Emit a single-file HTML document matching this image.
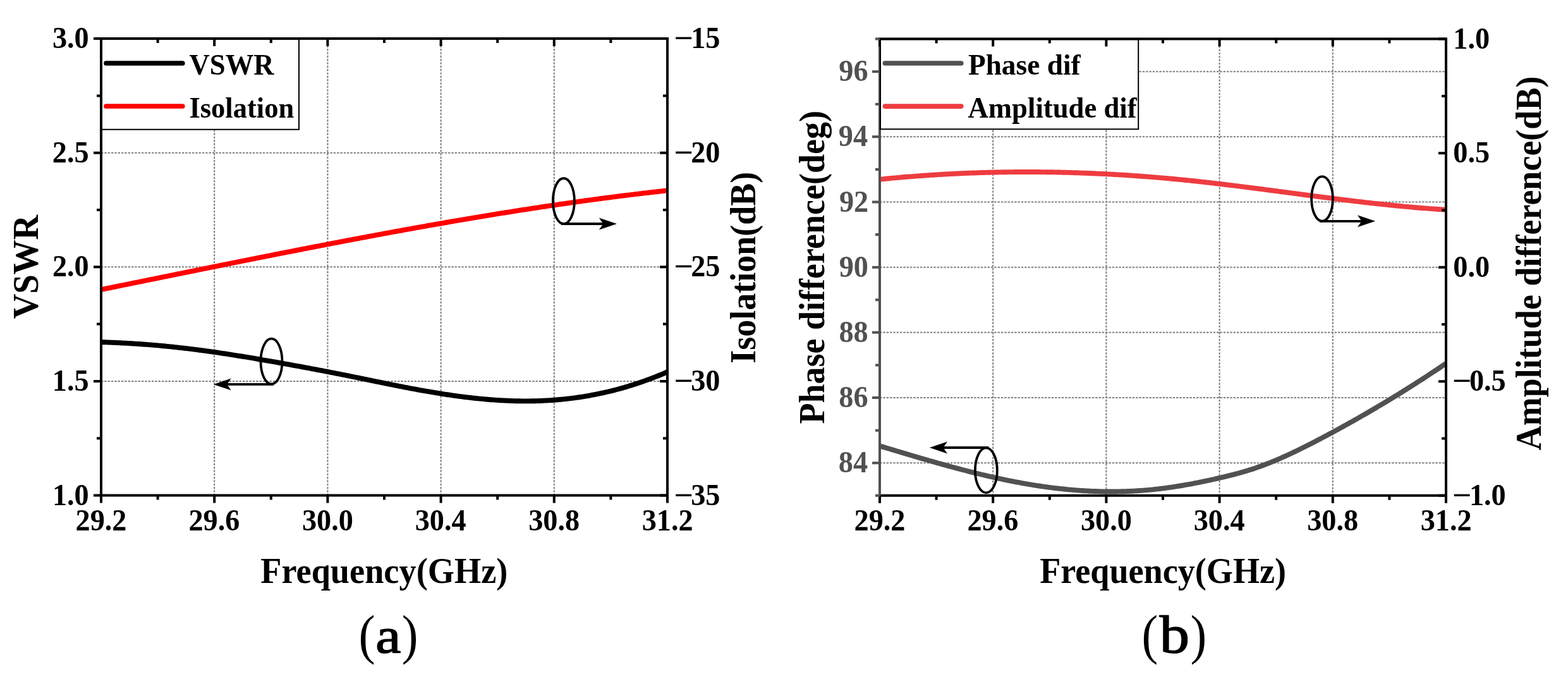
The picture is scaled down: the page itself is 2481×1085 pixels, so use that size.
<!DOCTYPE html>
<html><head><meta charset="utf-8"><title>Figure</title>
<style>
html,body{margin:0;padding:0;background:#fff;overflow:hidden;}
svg{display:block;}
text{font-family:"Liberation Serif", "Times New Roman", serif;}
</style></head>
<body>
<svg width="2481" height="1085" viewBox="0 0 2481 1085">
<rect x="0" y="0" width="2481" height="1085" fill="#fff"/>
<path d="M339.2 61.1 V783.5 M518.4 61.1 V783.5 M697.6 61.1 V783.5 M876.8 61.1 V783.5 M160 602.9 H1056 M160 422.3 H1056 M160 241.7 H1056" stroke="#7f7f7f" stroke-width="2" stroke-dasharray="3.4 1.93" fill="none"/>
<path d="M160 458.04 L163 457.43 L165.99 456.83 L168.99 456.22 L171.99 455.61 L174.98 455.01 L177.98 454.4 L180.98 453.79 L183.97 453.18 L186.97 452.58 L189.97 451.97 L192.96 451.36 L195.96 450.75 L198.96 450.14 L201.95 449.54 L204.95 448.93 L207.95 448.32 L210.94 447.71 L213.94 447.1 L216.94 446.5 L219.93 445.89 L222.93 445.28 L225.93 444.67 L228.92 444.06 L231.92 443.46 L234.92 442.85 L237.91 442.24 L240.91 441.63 L243.91 441.02 L246.9 440.41 L249.9 439.81 L252.9 439.2 L255.89 438.59 L258.89 437.98 L261.89 437.38 L264.88 436.77 L267.88 436.16 L270.88 435.55 L273.87 434.94 L276.87 434.34 L279.87 433.73 L282.86 433.12 L285.86 432.52 L288.86 431.91 L291.85 431.3 L294.85 430.7 L297.85 430.09 L300.84 429.48 L303.84 428.88 L306.84 428.27 L309.83 427.67 L312.83 427.06 L315.83 426.46 L318.82 425.85 L321.82 425.25 L324.82 424.64 L327.81 424.04 L330.81 423.43 L333.81 422.83 L336.8 422.22 L339.8 421.62 L342.8 421.02 L345.79 420.41 L348.79 419.81 L351.79 419.21 L354.78 418.61 L357.78 418 L360.78 417.4 L363.77 416.8 L366.77 416.2 L369.77 415.6 L372.76 415 L375.76 414.4 L378.76 413.8 L381.75 413.2 L384.75 412.6 L387.75 412 L390.74 411.41 L393.74 410.81 L396.74 410.21 L399.73 409.61 L402.73 409.02 L405.73 408.42 L408.72 407.82 L411.72 407.23 L414.72 406.63 L417.71 406.04 L420.71 405.45 L423.71 404.85 L426.7 404.26 L429.7 403.67 L432.7 403.07 L435.69 402.48 L438.69 401.89 L441.69 401.3 L444.68 400.71 L447.68 400.12 L450.68 399.53 L453.67 398.94 L456.67 398.35 L459.67 397.76 L462.66 397.18 L465.66 396.59 L468.66 396 L471.65 395.42 L474.65 394.83 L477.65 394.25 L480.64 393.66 L483.64 393.08 L486.64 392.5 L489.63 391.91 L492.63 391.33 L495.63 390.75 L498.62 390.17 L501.62 389.59 L504.62 389.01 L507.61 388.43 L510.61 387.86 L513.61 387.28 L516.6 386.7 L519.6 386.13 L522.6 385.55 L525.59 384.98 L528.59 384.4 L531.59 383.83 L534.58 383.26 L537.58 382.68 L540.58 382.11 L543.57 381.54 L546.57 380.97 L549.57 380.4 L552.56 379.84 L555.56 379.27 L558.56 378.7 L561.55 378.14 L564.55 377.57 L567.55 377.01 L570.54 376.44 L573.54 375.88 L576.54 375.32 L579.53 374.76 L582.53 374.2 L585.53 373.64 L588.52 373.08 L591.52 372.52 L594.52 371.96 L597.51 371.41 L600.51 370.85 L603.51 370.3 L606.5 369.74 L609.5 369.19 L612.49 368.64 L615.49 368.09 L618.49 367.54 L621.48 366.99 L624.48 366.44 L627.48 365.89 L630.47 365.34 L633.47 364.8 L636.47 364.25 L639.46 363.71 L642.46 363.17 L645.46 362.63 L648.45 362.08 L651.45 361.54 L654.45 361.01 L657.44 360.47 L660.44 359.93 L663.44 359.4 L666.43 358.86 L669.43 358.33 L672.43 357.79 L675.42 357.26 L678.42 356.73 L681.42 356.2 L684.41 355.67 L687.41 355.15 L690.41 354.62 L693.4 354.1 L696.4 353.57 L699.4 353.05 L702.39 352.53 L705.39 352.01 L708.39 351.49 L711.38 350.97 L714.38 350.45 L717.38 349.94 L720.37 349.42 L723.37 348.91 L726.37 348.4 L729.36 347.89 L732.36 347.38 L735.36 346.87 L738.35 346.36 L741.35 345.85 L744.35 345.35 L747.34 344.84 L750.34 344.34 L753.34 343.84 L756.33 343.34 L759.33 342.84 L762.33 342.35 L765.32 341.85 L768.32 341.36 L771.32 340.86 L774.31 340.37 L777.31 339.88 L780.31 339.39 L783.3 338.9 L786.3 338.42 L789.3 337.93 L792.29 337.45 L795.29 336.97 L798.29 336.49 L801.28 336.01 L804.28 335.53 L807.28 335.05 L810.27 334.58 L813.27 334.1 L816.27 333.63 L819.26 333.16 L822.26 332.69 L825.26 332.22 L828.25 331.76 L831.25 331.29 L834.25 330.83 L837.24 330.37 L840.24 329.91 L843.24 329.45 L846.23 328.99 L849.23 328.54 L852.23 328.08 L855.22 327.63 L858.22 327.18 L861.22 326.73 L864.21 326.28 L867.21 325.84 L870.21 325.39 L873.2 324.95 L876.2 324.51 L879.2 324.07 L882.19 323.63 L885.19 323.19 L888.19 322.76 L891.18 322.33 L894.18 321.89 L897.18 321.47 L900.17 321.04 L903.17 320.61 L906.17 320.19 L909.16 319.76 L912.16 319.34 L915.16 318.92 L918.15 318.51 L921.15 318.09 L924.15 317.68 L927.14 317.27 L930.14 316.86 L933.14 316.45 L936.13 316.04 L939.13 315.63 L942.13 315.23 L945.12 314.83 L948.12 314.43 L951.12 314.03 L954.11 313.64 L957.11 313.24 L960.11 312.85 L963.1 312.46 L966.1 312.07 L969.1 311.69 L972.09 311.3 L975.09 310.92 L978.09 310.54 L981.08 310.16 L984.08 309.78 L987.08 309.41 L990.07 309.04 L993.07 308.67 L996.07 308.3 L999.06 307.93 L1002.06 307.57 L1005.06 307.2 L1008.05 306.84 L1011.05 306.48 L1014.05 306.13 L1017.04 305.77 L1020.04 305.42 L1023.04 305.07 L1026.03 304.72 L1029.03 304.37 L1032.03 304.03 L1035.02 303.69 L1038.02 303.34 L1041.02 303.01 L1044.01 302.67 L1047.01 302.34 L1050.01 302 L1053 301.67 L1056 301.35" stroke="#ff0000" stroke-width="7.9" fill="none" stroke-linejoin="round"/>
<path d="M160 541.14 L163 541.23 L165.99 541.32 L168.99 541.42 L171.99 541.53 L174.98 541.64 L177.98 541.76 L180.98 541.89 L183.97 542.02 L186.97 542.15 L189.97 542.3 L192.96 542.45 L195.96 542.6 L198.96 542.76 L201.95 542.93 L204.95 543.1 L207.95 543.28 L210.94 543.47 L213.94 543.66 L216.94 543.86 L219.93 544.06 L222.93 544.27 L225.93 544.48 L228.92 544.71 L231.92 544.93 L234.92 545.17 L237.91 545.4 L240.91 545.65 L243.91 545.9 L246.9 546.16 L249.9 546.42 L252.9 546.69 L255.89 546.97 L258.89 547.25 L261.89 547.53 L264.88 547.83 L267.88 548.13 L270.88 548.43 L273.87 548.74 L276.87 549.06 L279.87 549.38 L282.86 549.71 L285.86 550.05 L288.86 550.39 L291.85 550.73 L294.85 551.09 L297.85 551.44 L300.84 551.81 L303.84 552.18 L306.84 552.55 L309.83 552.93 L312.83 553.32 L315.83 553.71 L318.82 554.11 L321.82 554.51 L324.82 554.92 L327.81 555.33 L330.81 555.75 L333.81 556.17 L336.8 556.6 L339.8 557.03 L342.8 557.46 L345.79 557.9 L348.79 558.35 L351.79 558.8 L354.78 559.25 L357.78 559.71 L360.78 560.17 L363.77 560.63 L366.77 561.1 L369.77 561.57 L372.76 562.05 L375.76 562.53 L378.76 563.01 L381.75 563.49 L384.75 563.98 L387.75 564.47 L390.74 564.97 L393.74 565.47 L396.74 565.97 L399.73 566.47 L402.73 566.98 L405.73 567.49 L408.72 568 L411.72 568.51 L414.72 569.02 L417.71 569.54 L420.71 570.06 L423.71 570.58 L426.7 571.11 L429.7 571.63 L432.7 572.16 L435.69 572.69 L438.69 573.22 L441.69 573.75 L444.68 574.28 L447.68 574.82 L450.68 575.35 L453.67 575.89 L456.67 576.43 L459.67 576.98 L462.66 577.52 L465.66 578.06 L468.66 578.61 L471.65 579.16 L474.65 579.71 L477.65 580.26 L480.64 580.82 L483.64 581.37 L486.64 581.93 L489.63 582.49 L492.63 583.05 L495.63 583.61 L498.62 584.18 L501.62 584.75 L504.62 585.31 L507.61 585.88 L510.61 586.46 L513.61 587.03 L516.6 587.61 L519.6 588.19 L522.6 588.77 L525.59 589.35 L528.59 589.93 L531.59 590.52 L534.58 591.11 L537.58 591.7 L540.58 592.29 L543.57 592.89 L546.57 593.49 L549.57 594.08 L552.56 594.69 L555.56 595.29 L558.56 595.9 L561.55 596.5 L564.55 597.11 L567.55 597.72 L570.54 598.34 L573.54 598.95 L576.54 599.56 L579.53 600.18 L582.53 600.8 L585.53 601.41 L588.52 602.03 L591.52 602.65 L594.52 603.26 L597.51 603.88 L600.51 604.49 L603.51 605.1 L606.5 605.72 L609.5 606.33 L612.49 606.93 L615.49 607.54 L618.49 608.15 L621.48 608.75 L624.48 609.35 L627.48 609.94 L630.47 610.54 L633.47 611.13 L636.47 611.72 L639.46 612.3 L642.46 612.88 L645.46 613.45 L648.45 614.02 L651.45 614.59 L654.45 615.15 L657.44 615.71 L660.44 616.26 L663.44 616.8 L666.43 617.35 L669.43 617.88 L672.43 618.41 L675.42 618.93 L678.42 619.45 L681.42 619.96 L684.41 620.47 L687.41 620.97 L690.41 621.46 L693.4 621.95 L696.4 622.43 L699.4 622.9 L702.39 623.36 L705.39 623.82 L708.39 624.27 L711.38 624.71 L714.38 625.15 L717.38 625.57 L720.37 625.99 L723.37 626.4 L726.37 626.81 L729.36 627.2 L732.36 627.58 L735.36 627.96 L738.35 628.33 L741.35 628.68 L744.35 629.03 L747.34 629.37 L750.34 629.7 L753.34 630.02 L756.33 630.33 L759.33 630.63 L762.33 630.91 L765.32 631.19 L768.32 631.46 L771.32 631.72 L774.31 631.96 L777.31 632.2 L780.31 632.42 L783.3 632.63 L786.3 632.84 L789.3 633.03 L792.29 633.2 L795.29 633.37 L798.29 633.52 L801.28 633.66 L804.28 633.79 L807.28 633.91 L810.27 634.01 L813.27 634.1 L816.27 634.18 L819.26 634.24 L822.26 634.29 L825.26 634.33 L828.25 634.36 L831.25 634.37 L834.25 634.36 L837.24 634.34 L840.24 634.31 L843.24 634.26 L846.23 634.2 L849.23 634.13 L852.23 634.03 L855.22 633.93 L858.22 633.81 L861.22 633.67 L864.21 633.52 L867.21 633.35 L870.21 633.16 L873.2 632.97 L876.2 632.75 L879.2 632.52 L882.19 632.27 L885.19 632.01 L888.19 631.73 L891.18 631.43 L894.18 631.12 L897.18 630.79 L900.17 630.44 L903.17 630.08 L906.17 629.7 L909.16 629.31 L912.16 628.89 L915.16 628.47 L918.15 628.02 L921.15 627.56 L924.15 627.08 L927.14 626.58 L930.14 626.07 L933.14 625.54 L936.13 624.99 L939.13 624.42 L942.13 623.84 L945.12 623.24 L948.12 622.62 L951.12 621.99 L954.11 621.34 L957.11 620.67 L960.11 619.98 L963.1 619.27 L966.1 618.55 L969.1 617.81 L972.09 617.05 L975.09 616.27 L978.09 615.48 L981.08 614.66 L984.08 613.83 L987.08 612.98 L990.07 612.11 L993.07 611.22 L996.07 610.32 L999.06 609.39 L1002.06 608.45 L1005.06 607.49 L1008.05 606.51 L1011.05 605.51 L1014.05 604.49 L1017.04 603.46 L1020.04 602.4 L1023.04 601.33 L1026.03 600.23 L1029.03 599.12 L1032.03 597.99 L1035.02 596.83 L1038.02 595.66 L1041.02 594.47 L1044.01 593.26 L1047.01 592.03 L1050.01 590.78 L1053 589.51 L1056 588.22" stroke="#000" stroke-width="7.9" fill="none" stroke-linejoin="round"/>
<path d="M160 61.1 H1056 M160 783.5 H1056 M1056 61.1 V783.5" stroke="#000" stroke-width="4" fill="none" stroke-linecap="square"/>
<path d="M160 63.1 V785.5" stroke="#000" stroke-width="4" fill="none"/>
<rect x="161" y="62.1" width="312" height="142.7" fill="#fff" stroke="#000" stroke-width="2"/>
<path d="M167.9 100 H288.8" stroke="#000" stroke-width="7.7" stroke-linecap="round"/>
<text transform="translate(299.6 118.4) scale(0.9598 1.0000)" font-size="46.5" font-weight="bold" fill="#000">VSWR</text>
<path d="M167.9 168 H288.8" stroke="#ff0000" stroke-width="7.7" stroke-linecap="round"/>
<text transform="translate(299.4 186) scale(0.9587 1.0000)" font-size="46.5" font-weight="bold" fill="#000">Isolation</text>
<path d="M160 783.5 V795.5 M160 61.1 V73.1 M339.2 783.5 V795.5 M339.2 61.1 V73.1 M518.4 783.5 V795.5 M518.4 61.1 V73.1 M697.6 783.5 V795.5 M697.6 61.1 V73.1 M876.8 783.5 V795.5 M876.8 61.1 V73.1 M1056 783.5 V795.5 M1056 61.1 V73.1 M249.6 783.5 V790.5 M249.6 61.1 V68.1 M428.8 783.5 V790.5 M428.8 61.1 V68.1 M608 783.5 V790.5 M608 61.1 V68.1 M787.2 783.5 V790.5 M787.2 61.1 V68.1 M966.4 783.5 V790.5 M966.4 61.1 V68.1 M1056 783.5 H1044 M1056 602.9 H1044 M1056 422.3 H1044 M1056 241.7 H1044 M1056 61.1 H1044 M1056 693.2 H1049 M1056 512.6 H1049 M1056 332 H1049 M1056 151.4 H1049" stroke="#000" stroke-width="4" fill="none"/>
<path d="M160 783.5 H148 M160 602.9 H148 M160 422.3 H148 M160 241.7 H148 M160 61.1 H148 M160 693.2 H153 M160 512.6 H153 M160 332 H153 M160 151.4 H153" stroke="#000" stroke-width="4" fill="none"/>
<ellipse cx="891.9" cy="318" rx="17" ry="36" fill="none" stroke="#000" stroke-width="3.8"/>
<path d="M888 354 H969.4" stroke="#000" stroke-width="3.8" fill="none"/>
<path d="M976 354 L947.8 344.55 L954.4 354 L947.8 363.45 Z" fill="#000"/>
<ellipse cx="429.5" cy="571.6" rx="17" ry="35.9" fill="none" stroke="#000" stroke-width="3.8"/>
<path d="M432.8 607.9 H344.1" stroke="#000" stroke-width="3.8" fill="none"/>
<path d="M337.5 607.9 L365.7 598.45 L359.1 607.9 L365.7 617.35 Z" fill="#000"/>
<text transform="translate(119.53 839.3) scale(0.9640 1.0000)" font-size="48" font-weight="bold" fill="#000">29.2</text>
<text transform="translate(298.42 839.3) scale(0.9640 1.0000)" font-size="48" font-weight="bold" fill="#000">29.6</text>
<text transform="translate(477.92 839.3) scale(0.9640 1.0000)" font-size="48" font-weight="bold" fill="#000">30.0</text>
<text transform="translate(656.67 839.3) scale(0.9640 1.0000)" font-size="48" font-weight="bold" fill="#000">30.4</text>
<text transform="translate(836.21 839.3) scale(0.9640 1.0000)" font-size="48" font-weight="bold" fill="#000">30.8</text>
<text transform="translate(1015.64 839.3) scale(0.9640 1.0000)" font-size="48" font-weight="bold" fill="#000">31.2</text>
<text transform="translate(82.92 798.5) scale(0.9640 1.0000)" font-size="48" font-weight="bold" fill="#000">1.0</text>
<text transform="translate(82.85 617.9) scale(0.9640 1.0000)" font-size="48" font-weight="bold" fill="#000">1.5</text>
<text transform="translate(82.92 437.3) scale(0.9640 1.0000)" font-size="48" font-weight="bold" fill="#000">2.0</text>
<text transform="translate(82.85 256.7) scale(0.9640 1.0000)" font-size="48" font-weight="bold" fill="#000">2.5</text>
<text transform="translate(82.92 76.1) scale(0.9640 1.0000)" font-size="48" font-weight="bold" fill="#000">3.0</text>
<text transform="translate(1066.16 76.1) scale(1.1204 1.0000)" font-size="48" font-weight="bold" fill="#000">−</text>
<text transform="translate(1093.2 76.1) scale(0.9640 1.0000)" font-size="48" font-weight="bold" fill="#000">15</text>
<text transform="translate(1066.16 256.7) scale(1.1204 1.0000)" font-size="48" font-weight="bold" fill="#000">−</text>
<text transform="translate(1093.2 256.7) scale(0.9640 1.0000)" font-size="48" font-weight="bold" fill="#000">20</text>
<text transform="translate(1066.16 437.3) scale(1.1204 1.0000)" font-size="48" font-weight="bold" fill="#000">−</text>
<text transform="translate(1093.2 437.3) scale(0.9640 1.0000)" font-size="48" font-weight="bold" fill="#000">25</text>
<text transform="translate(1066.16 617.9) scale(1.1204 1.0000)" font-size="48" font-weight="bold" fill="#000">−</text>
<text transform="translate(1093.2 617.9) scale(0.9640 1.0000)" font-size="48" font-weight="bold" fill="#000">30</text>
<text transform="translate(1066.16 798.5) scale(1.1204 1.0000)" font-size="48" font-weight="bold" fill="#000">−</text>
<text transform="translate(1093.2 798.5) scale(0.9640 1.0000)" font-size="48" font-weight="bold" fill="#000">35</text>
<text transform="translate(412.27 921.8) scale(0.9698 1.0000)" font-size="56" font-weight="bold" fill="#000">Frequency(GHz)</text>
<text transform="translate(60.2 504.22) rotate(-90) scale(0.9780 1)" font-size="56" font-weight="bold" fill="#000">VSWR</text>
<text transform="translate(1195 574.82) rotate(-90) scale(0.9647 1)" font-size="56" font-weight="bold" fill="#000">Isolation(dB)</text>
<text transform="translate(567.46 1032.6) scale(0.9100 1.0000)" font-size="86" font-weight="normal" fill="#000">(</text>
<text transform="translate(594.32 1032.2) scale(1.0509 0.9100)" font-size="86" font-weight="normal" fill="#000" stroke="#000" stroke-width="1.6" stroke-linejoin="round">a</text>
<text transform="translate(635.72 1032.6) scale(0.8964 1.0000)" font-size="86" font-weight="normal" fill="#000">)</text>
<path d="M1571.2 61.6 V783.8 M1750.4 61.6 V783.8 M1929.6 61.6 V783.8 M2108.8 61.6 V783.8 M1392 732.21 H2288 M1392 629.04 H2288 M1392 525.87 H2288 M1392 422.7 H2288 M1392 319.53 H2288 M1392 216.36 H2288 M1392 113.19 H2288" stroke="#7f7f7f" stroke-width="2" stroke-dasharray="3.4 1.93" fill="none"/>
<path d="M1392 283.68 L1395 283.37 L1397.99 283.08 L1400.99 282.78 L1403.99 282.49 L1406.98 282.2 L1409.98 281.92 L1412.98 281.64 L1415.97 281.37 L1418.97 281.1 L1421.97 280.83 L1424.96 280.57 L1427.96 280.31 L1430.96 280.06 L1433.95 279.81 L1436.95 279.56 L1439.95 279.32 L1442.94 279.08 L1445.94 278.85 L1448.94 278.62 L1451.93 278.39 L1454.93 278.17 L1457.93 277.95 L1460.92 277.74 L1463.92 277.53 L1466.92 277.32 L1469.91 277.12 L1472.91 276.92 L1475.91 276.72 L1478.9 276.53 L1481.9 276.35 L1484.9 276.16 L1487.89 275.99 L1490.89 275.81 L1493.89 275.64 L1496.88 275.47 L1499.88 275.31 L1502.88 275.15 L1505.87 275 L1508.87 274.85 L1511.87 274.7 L1514.86 274.56 L1517.86 274.42 L1520.86 274.28 L1523.85 274.15 L1526.85 274.02 L1529.85 273.9 L1532.84 273.78 L1535.84 273.66 L1538.84 273.55 L1541.83 273.44 L1544.83 273.34 L1547.83 273.24 L1550.82 273.14 L1553.82 273.05 L1556.82 272.96 L1559.81 272.88 L1562.81 272.8 L1565.81 272.72 L1568.8 272.65 L1571.8 272.58 L1574.8 272.51 L1577.79 272.45 L1580.79 272.39 L1583.79 272.34 L1586.78 272.29 L1589.78 272.24 L1592.78 272.2 L1595.77 272.16 L1598.77 272.12 L1601.77 272.09 L1604.76 272.07 L1607.76 272.04 L1610.76 272.02 L1613.75 272.01 L1616.75 271.99 L1619.75 271.99 L1622.74 271.98 L1625.74 271.98 L1628.74 271.98 L1631.73 271.99 L1634.73 272 L1637.73 272.02 L1640.72 272.03 L1643.72 272.06 L1646.72 272.08 L1649.71 272.11 L1652.71 272.14 L1655.71 272.18 L1658.7 272.22 L1661.7 272.27 L1664.7 272.31 L1667.69 272.37 L1670.69 272.42 L1673.69 272.48 L1676.68 272.54 L1679.68 272.61 L1682.68 272.68 L1685.67 272.75 L1688.67 272.83 L1691.67 272.91 L1694.66 273 L1697.66 273.09 L1700.66 273.18 L1703.65 273.28 L1706.65 273.38 L1709.65 273.48 L1712.64 273.59 L1715.64 273.7 L1718.64 273.81 L1721.63 273.93 L1724.63 274.05 L1727.63 274.18 L1730.62 274.31 L1733.62 274.44 L1736.62 274.58 L1739.61 274.72 L1742.61 274.86 L1745.61 275.01 L1748.6 275.16 L1751.6 275.32 L1754.6 275.47 L1757.59 275.64 L1760.59 275.8 L1763.59 275.97 L1766.58 276.14 L1769.58 276.32 L1772.58 276.5 L1775.57 276.68 L1778.57 276.87 L1781.57 277.06 L1784.56 277.26 L1787.56 277.45 L1790.56 277.66 L1793.55 277.86 L1796.55 278.07 L1799.55 278.28 L1802.54 278.5 L1805.54 278.72 L1808.54 278.94 L1811.53 279.17 L1814.53 279.4 L1817.53 279.63 L1820.52 279.87 L1823.52 280.11 L1826.52 280.35 L1829.51 280.6 L1832.51 280.85 L1835.51 281.11 L1838.5 281.36 L1841.5 281.63 L1844.49 281.89 L1847.49 282.16 L1850.49 282.43 L1853.48 282.71 L1856.48 282.99 L1859.48 283.27 L1862.47 283.56 L1865.47 283.85 L1868.47 284.14 L1871.46 284.44 L1874.46 284.74 L1877.46 285.04 L1880.45 285.35 L1883.45 285.66 L1886.45 285.97 L1889.44 286.29 L1892.44 286.61 L1895.44 286.93 L1898.43 287.26 L1901.43 287.59 L1904.43 287.92 L1907.42 288.25 L1910.42 288.59 L1913.42 288.93 L1916.41 289.27 L1919.41 289.62 L1922.41 289.97 L1925.4 290.32 L1928.4 290.67 L1931.4 291.02 L1934.39 291.38 L1937.39 291.74 L1940.39 292.1 L1943.38 292.46 L1946.38 292.83 L1949.38 293.2 L1952.37 293.57 L1955.37 293.94 L1958.37 294.31 L1961.36 294.68 L1964.36 295.06 L1967.36 295.44 L1970.35 295.82 L1973.35 296.2 L1976.35 296.58 L1979.34 296.96 L1982.34 297.35 L1985.34 297.73 L1988.33 298.12 L1991.33 298.51 L1994.33 298.89 L1997.32 299.28 L2000.32 299.67 L2003.32 300.07 L2006.31 300.46 L2009.31 300.85 L2012.31 301.24 L2015.3 301.64 L2018.3 302.03 L2021.3 302.43 L2024.29 302.82 L2027.29 303.22 L2030.29 303.61 L2033.28 304.01 L2036.28 304.41 L2039.28 304.8 L2042.27 305.2 L2045.27 305.59 L2048.27 305.99 L2051.26 306.38 L2054.26 306.78 L2057.26 307.18 L2060.25 307.57 L2063.25 307.96 L2066.25 308.36 L2069.24 308.75 L2072.24 309.14 L2075.24 309.54 L2078.23 309.93 L2081.23 310.32 L2084.23 310.71 L2087.22 311.1 L2090.22 311.48 L2093.22 311.87 L2096.21 312.25 L2099.21 312.64 L2102.21 313.02 L2105.2 313.4 L2108.2 313.78 L2111.2 314.16 L2114.19 314.54 L2117.19 314.91 L2120.19 315.29 L2123.18 315.66 L2126.18 316.03 L2129.18 316.4 L2132.17 316.77 L2135.17 317.13 L2138.17 317.5 L2141.16 317.86 L2144.16 318.22 L2147.16 318.57 L2150.15 318.93 L2153.15 319.28 L2156.15 319.63 L2159.14 319.98 L2162.14 320.32 L2165.14 320.66 L2168.13 321 L2171.13 321.34 L2174.13 321.67 L2177.12 322 L2180.12 322.33 L2183.12 322.66 L2186.11 322.98 L2189.11 323.3 L2192.11 323.62 L2195.1 323.93 L2198.1 324.24 L2201.1 324.55 L2204.09 324.85 L2207.09 325.15 L2210.09 325.45 L2213.08 325.74 L2216.08 326.03 L2219.08 326.31 L2222.07 326.59 L2225.07 326.87 L2228.07 327.15 L2231.06 327.42 L2234.06 327.68 L2237.06 327.94 L2240.05 328.2 L2243.05 328.46 L2246.05 328.7 L2249.04 328.95 L2252.04 329.19 L2255.04 329.43 L2258.03 329.66 L2261.03 329.89 L2264.03 330.11 L2267.02 330.33 L2270.02 330.54 L2273.02 330.75 L2276.01 330.95 L2279.01 331.15 L2282.01 331.34 L2285 331.53 L2288 331.72" stroke="#ee3c40" stroke-width="7.9" fill="none" stroke-linejoin="round"/>
<path d="M1392 705.31 L1395 706.22 L1397.99 707.12 L1400.99 708.02 L1403.99 708.93 L1406.98 709.83 L1409.98 710.73 L1412.98 711.63 L1415.97 712.53 L1418.97 713.43 L1421.97 714.33 L1424.96 715.23 L1427.96 716.12 L1430.96 717.02 L1433.95 717.91 L1436.95 718.8 L1439.95 719.69 L1442.94 720.57 L1445.94 721.46 L1448.94 722.34 L1451.93 723.22 L1454.93 724.09 L1457.93 724.97 L1460.92 725.84 L1463.92 726.7 L1466.92 727.57 L1469.91 728.43 L1472.91 729.29 L1475.91 730.14 L1478.9 730.99 L1481.9 731.84 L1484.9 732.68 L1487.89 733.52 L1490.89 734.36 L1493.89 735.19 L1496.88 736.02 L1499.88 736.84 L1502.88 737.66 L1505.87 738.47 L1508.87 739.28 L1511.87 740.08 L1514.86 740.88 L1517.86 741.67 L1520.86 742.46 L1523.85 743.24 L1526.85 744.01 L1529.85 744.78 L1532.84 745.55 L1535.84 746.31 L1538.84 747.06 L1541.83 747.8 L1544.83 748.54 L1547.83 749.28 L1550.82 750 L1553.82 750.72 L1556.82 751.43 L1559.81 752.14 L1562.81 752.84 L1565.81 753.53 L1568.8 754.21 L1571.8 754.89 L1574.8 755.56 L1577.79 756.22 L1580.79 756.87 L1583.79 757.51 L1586.78 758.15 L1589.78 758.78 L1592.78 759.4 L1595.77 760.01 L1598.77 760.61 L1601.77 761.21 L1604.76 761.79 L1607.76 762.37 L1610.76 762.93 L1613.75 763.49 L1616.75 764.04 L1619.75 764.58 L1622.74 765.1 L1625.74 765.62 L1628.74 766.13 L1631.73 766.63 L1634.73 767.12 L1637.73 767.6 L1640.72 768.07 L1643.72 768.52 L1646.72 768.97 L1649.71 769.41 L1652.71 769.83 L1655.71 770.25 L1658.7 770.65 L1661.7 771.05 L1664.7 771.43 L1667.69 771.8 L1670.69 772.16 L1673.69 772.51 L1676.68 772.85 L1679.68 773.18 L1682.68 773.49 L1685.67 773.8 L1688.67 774.09 L1691.67 774.37 L1694.66 774.64 L1697.66 774.9 L1700.66 775.15 L1703.65 775.38 L1706.65 775.6 L1709.65 775.82 L1712.64 776.01 L1715.64 776.2 L1718.64 776.38 L1721.63 776.54 L1724.63 776.69 L1727.63 776.83 L1730.62 776.95 L1733.62 777.07 L1736.62 777.17 L1739.61 777.25 L1742.61 777.33 L1745.61 777.39 L1748.6 777.44 L1751.6 777.48 L1754.6 777.5 L1757.59 777.51 L1760.59 777.51 L1763.59 777.49 L1766.58 777.46 L1769.58 777.42 L1772.58 777.37 L1775.57 777.3 L1778.57 777.22 L1781.57 777.12 L1784.56 777.01 L1787.56 776.89 L1790.56 776.75 L1793.55 776.6 L1796.55 776.43 L1799.55 776.25 L1802.54 776.06 L1805.54 775.85 L1808.54 775.63 L1811.53 775.39 L1814.53 775.14 L1817.53 774.88 L1820.52 774.6 L1823.52 774.31 L1826.52 774 L1829.51 773.68 L1832.51 773.34 L1835.51 772.99 L1838.5 772.62 L1841.5 772.24 L1844.49 771.85 L1847.49 771.44 L1850.49 771.02 L1853.48 770.59 L1856.48 770.15 L1859.48 769.69 L1862.47 769.22 L1865.47 768.74 L1868.47 768.24 L1871.46 767.74 L1874.46 767.22 L1877.46 766.69 L1880.45 766.16 L1883.45 765.61 L1886.45 765.05 L1889.44 764.48 L1892.44 763.89 L1895.44 763.3 L1898.43 762.7 L1901.43 762.09 L1904.43 761.47 L1907.42 760.85 L1910.42 760.21 L1913.42 759.56 L1916.41 758.91 L1919.41 758.25 L1922.41 757.58 L1925.4 756.9 L1928.4 756.21 L1931.4 755.52 L1934.39 754.82 L1937.39 754.11 L1940.39 753.39 L1943.38 752.66 L1946.38 751.92 L1949.38 751.16 L1952.37 750.39 L1955.37 749.6 L1958.37 748.8 L1961.36 747.98 L1964.36 747.14 L1967.36 746.29 L1970.35 745.41 L1973.35 744.51 L1976.35 743.58 L1979.34 742.64 L1982.34 741.67 L1985.34 740.67 L1988.33 739.64 L1991.33 738.6 L1994.33 737.52 L1997.32 736.43 L2000.32 735.31 L2003.32 734.16 L2006.31 733 L2009.31 731.81 L2012.31 730.6 L2015.3 729.37 L2018.3 728.12 L2021.3 726.85 L2024.29 725.56 L2027.29 724.25 L2030.29 722.93 L2033.28 721.59 L2036.28 720.23 L2039.28 718.85 L2042.27 717.46 L2045.27 716.05 L2048.27 714.63 L2051.26 713.19 L2054.26 711.74 L2057.26 710.27 L2060.25 708.8 L2063.25 707.31 L2066.25 705.81 L2069.24 704.3 L2072.24 702.77 L2075.24 701.24 L2078.23 699.7 L2081.23 698.15 L2084.23 696.59 L2087.22 695.02 L2090.22 693.45 L2093.22 691.87 L2096.21 690.28 L2099.21 688.69 L2102.21 687.09 L2105.2 685.48 L2108.2 683.87 L2111.2 682.25 L2114.19 680.63 L2117.19 678.99 L2120.19 677.36 L2123.18 675.71 L2126.18 674.06 L2129.18 672.4 L2132.17 670.74 L2135.17 669.07 L2138.17 667.39 L2141.16 665.71 L2144.16 664.02 L2147.16 662.32 L2150.15 660.62 L2153.15 658.91 L2156.15 657.19 L2159.14 655.47 L2162.14 653.74 L2165.14 652.01 L2168.13 650.26 L2171.13 648.51 L2174.13 646.76 L2177.12 644.99 L2180.12 643.22 L2183.12 641.44 L2186.11 639.66 L2189.11 637.87 L2192.11 636.07 L2195.1 634.27 L2198.1 632.46 L2201.1 630.64 L2204.09 628.81 L2207.09 626.98 L2210.09 625.14 L2213.08 623.29 L2216.08 621.44 L2219.08 619.58 L2222.07 617.71 L2225.07 615.84 L2228.07 613.96 L2231.06 612.07 L2234.06 610.17 L2237.06 608.27 L2240.05 606.36 L2243.05 604.44 L2246.05 602.51 L2249.04 600.58 L2252.04 598.64 L2255.04 596.69 L2258.03 594.74 L2261.03 592.78 L2264.03 590.81 L2267.02 588.83 L2270.02 586.85 L2273.02 584.86 L2276.01 582.86 L2279.01 580.85 L2282.01 578.84 L2285 576.82 L2288 574.79" stroke="#515151" stroke-width="7.9" fill="none" stroke-linejoin="round"/>
<path d="M1392 61.6 H2288 M1392 783.8 H2288 M2288 61.6 V783.8" stroke="#000" stroke-width="4" fill="none" stroke-linecap="square"/>
<path d="M1392 63.6 V785.8" stroke="#515151" stroke-width="4" fill="none"/>
<rect x="1393" y="62.6" width="408.2" height="141.7" fill="#fff" stroke="#000" stroke-width="2"/>
<path d="M1400.4 100 H1520.8" stroke="#515151" stroke-width="7.7" stroke-linecap="round"/>
<text transform="translate(1531.92 117.8) scale(0.9758 1.0000)" font-size="46.5" font-weight="bold" fill="#000">Phase dif</text>
<path d="M1400.4 168.1 H1520.8" stroke="#ee3c40" stroke-width="7.7" stroke-linecap="round"/>
<text transform="translate(1531.56 185.9) scale(0.9620 1.0000)" font-size="46.5" font-weight="bold" fill="#000">Amplitude dif</text>
<path d="M1392 783.8 V795.8 M1392 61.6 V73.6 M1571.2 783.8 V795.8 M1571.2 61.6 V73.6 M1750.4 783.8 V795.8 M1750.4 61.6 V73.6 M1929.6 783.8 V795.8 M1929.6 61.6 V73.6 M2108.8 783.8 V795.8 M2108.8 61.6 V73.6 M2288 783.8 V795.8 M2288 61.6 V73.6 M1481.6 783.8 V790.8 M1481.6 61.6 V68.6 M1660.8 783.8 V790.8 M1660.8 61.6 V68.6 M1840 783.8 V790.8 M1840 61.6 V68.6 M2019.2 783.8 V790.8 M2019.2 61.6 V68.6 M2198.4 783.8 V790.8 M2198.4 61.6 V68.6 M2288 783.8 H2276 M2288 603.25 H2276 M2288 422.7 H2276 M2288 242.15 H2276 M2288 61.6 H2276 M2288 693.52 H2281 M2288 512.97 H2281 M2288 332.43 H2281 M2288 151.88 H2281" stroke="#000" stroke-width="4" fill="none"/>
<path d="M1392 732.21 H1380 M1392 629.04 H1380 M1392 525.87 H1380 M1392 422.7 H1380 M1392 319.53 H1380 M1392 216.36 H1380 M1392 113.19 H1380 M1392 783.8 H1385 M1392 680.63 H1385 M1392 577.46 H1385 M1392 474.29 H1385 M1392 371.11 H1385 M1392 267.94 H1385 M1392 164.77 H1385 M1392 61.6 H1385" stroke="#515151" stroke-width="4" fill="none"/>
<ellipse cx="2092" cy="314.45" rx="16.9" ry="35.25" fill="none" stroke="#000" stroke-width="3.8"/>
<path d="M2088 349.8 H2169.5" stroke="#000" stroke-width="3.8" fill="none"/>
<path d="M2176.1 349.8 L2147.9 340.35 L2154.5 349.8 L2147.9 359.25 Z" fill="#000"/>
<ellipse cx="1560.35" cy="743.9" rx="17.45" ry="35.5" fill="none" stroke="#000" stroke-width="3.8"/>
<path d="M1564.2 708 H1477.4" stroke="#000" stroke-width="3.8" fill="none"/>
<path d="M1470.8 708 L1499 698.55 L1492.4 708 L1499 717.45 Z" fill="#000"/>
<text transform="translate(1351.53 839.3) scale(0.9640 1.0000)" font-size="48" font-weight="bold" fill="#000">29.2</text>
<text transform="translate(1530.42 839.3) scale(0.9640 1.0000)" font-size="48" font-weight="bold" fill="#000">29.6</text>
<text transform="translate(1709.92 839.3) scale(0.9640 1.0000)" font-size="48" font-weight="bold" fill="#000">30.0</text>
<text transform="translate(1888.67 839.3) scale(0.9640 1.0000)" font-size="48" font-weight="bold" fill="#000">30.4</text>
<text transform="translate(2068.21 839.3) scale(0.9640 1.0000)" font-size="48" font-weight="bold" fill="#000">30.8</text>
<text transform="translate(2247.64 839.3) scale(0.9640 1.0000)" font-size="48" font-weight="bold" fill="#000">31.2</text>
<text transform="translate(1326.79 747.21) scale(0.9640 1.0000)" font-size="48" font-weight="bold" fill="#515151">84</text>
<text transform="translate(1327.28 644.04) scale(0.9640 1.0000)" font-size="48" font-weight="bold" fill="#515151">86</text>
<text transform="translate(1327.46 540.87) scale(0.9640 1.0000)" font-size="48" font-weight="bold" fill="#515151">88</text>
<text transform="translate(1327.69 437.7) scale(0.9640 1.0000)" font-size="48" font-weight="bold" fill="#515151">90</text>
<text transform="translate(1327.92 334.53) scale(0.9640 1.0000)" font-size="48" font-weight="bold" fill="#515151">92</text>
<text transform="translate(1326.79 231.36) scale(0.9640 1.0000)" font-size="48" font-weight="bold" fill="#515151">94</text>
<text transform="translate(1327.28 128.19) scale(0.9640 1.0000)" font-size="48" font-weight="bold" fill="#515151">96</text>
<text transform="translate(2299.35 76.6) scale(0.9640 1.0000)" font-size="48" font-weight="bold" fill="#000">1.0</text>
<text transform="translate(2299.35 257.15) scale(0.9640 1.0000)" font-size="48" font-weight="bold" fill="#000">0.5</text>
<text transform="translate(2299.35 437.7) scale(0.9640 1.0000)" font-size="48" font-weight="bold" fill="#000">0.0</text>
<text transform="translate(2297.86 618.25) scale(1.1204 1.0000)" font-size="48" font-weight="bold" fill="#000">−</text>
<text transform="translate(2324.9 618.25) scale(0.9640 1.0000)" font-size="48" font-weight="bold" fill="#000">0.5</text>
<text transform="translate(2297.86 798.8) scale(1.1204 1.0000)" font-size="48" font-weight="bold" fill="#000">−</text>
<text transform="translate(2324.9 798.8) scale(0.9640 1.0000)" font-size="48" font-weight="bold" fill="#000">1.0</text>
<text transform="translate(1645.17 921.8) scale(0.9670 1.0000)" font-size="56" font-weight="bold" fill="#000">Frequency(GHz)</text>
<text transform="translate(1304 670.62) rotate(-90) scale(0.9654 1)" font-size="56" font-weight="bold" fill="#000">Phase difference(deg)</text>
<text transform="translate(2437.7 712.23) rotate(-90) scale(0.9647 1)" font-size="56" font-weight="bold" fill="#000">Amplitude difference(dB)</text>
<text transform="translate(1806.61 1032.6) scale(0.8964 1.0000)" font-size="86" font-weight="normal" fill="#000">(</text>
<text transform="translate(1834.7 1032.1) scale(1.0976 0.9850)" font-size="86" font-weight="normal" fill="#000" stroke="#000" stroke-width="1.6" stroke-linejoin="round">b</text>
<text transform="translate(1883.52 1032.6) scale(0.8964 1.0000)" font-size="86" font-weight="normal" fill="#000">)</text>
</svg>
</body></html>
